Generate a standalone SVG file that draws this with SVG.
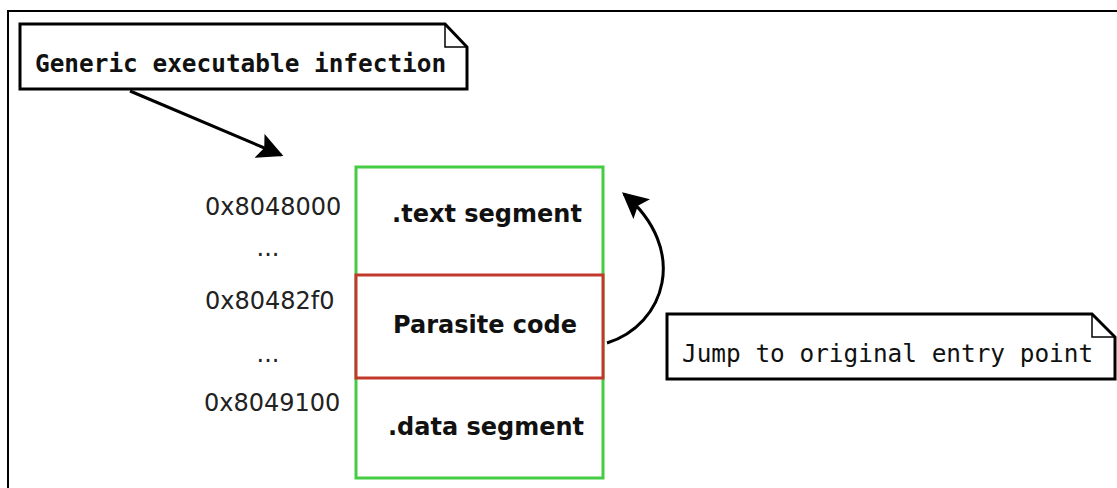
<svg xmlns="http://www.w3.org/2000/svg" width="1117" height="488" viewBox="0 0 1117 488">
<style>
.note{fill:#fff;stroke:#000;stroke-width:3}
.fold{fill:none;stroke:#000;stroke-width:1.5}
.mono{font-family:"DejaVu Sans Mono",monospace;font-size:24.4px;fill:#111}
.addr{font-family:"DejaVu Sans",sans-serif;font-size:24px;fill:#222}
.seg{font-family:"DejaVu Sans",sans-serif;font-size:24px;font-weight:bold;fill:#111}
.conn{fill:none;stroke:#000;stroke-width:3}
</style>
<defs>
<marker id="ah" viewBox="0 0 10 10" refX="9" refY="5" markerWidth="26" markerHeight="26" markerUnits="userSpaceOnUse" orient="auto">
<path d="M0,0 L10,5 L0,10 L2,5 Z" fill="#000"/>
</marker>
</defs>
<rect width="1117" height="488" fill="#fff"/>
<g id="frame">
<path d="M8,488 V11 H1117" fill="none" stroke="#000" stroke-width="2"/>
</g>
<g id="note-infection">
<path class="note" d="M20,24 H445 L467,47 V89 H20 Z"/>
<path class="fold" d="M445,24 V47 H467"/>
<text class="mono" x="35" y="72" font-weight="bold">Generic executable infection</text>
</g>
<g id="segments">
<rect x="356" y="167" width="247" height="311" fill="#fff" stroke="#44cc44" stroke-width="3"/>
<rect x="356" y="275" width="247" height="103" fill="#fff" stroke="#c0392b" stroke-width="3"/>
<text class="seg" x="487" y="222" text-anchor="middle">.text segment</text>
<text class="seg" x="485" y="333" text-anchor="middle">Parasite code</text>
<text class="seg" x="486" y="435" text-anchor="middle">.data segment</text>
</g>
<g id="addresses">
<text class="addr" x="205" y="215">0x8048000</text>
<text class="addr" x="268" y="256" text-anchor="middle">...</text>
<text class="addr" x="205" y="309">0x80482f0</text>
<text class="addr" x="268" y="362" text-anchor="middle">...</text>
<text class="addr" x="204" y="411">0x8049100</text>
</g>
<g id="note-jump">
<path class="note" d="M667,314 H1092 L1115,337 V379 H667 Z"/>
<path class="fold" d="M1092,314 V337 H1115"/>
<text class="mono" x="682" y="362">Jump to original entry point</text>
</g>
<g id="connectors">
<path class="conn" d="M130,91 L281,155" marker-end="url(#ah)"/>
<path class="conn" d="M607,343 C665,325 690,250 624,194" marker-end="url(#ah)"/>
</g>
</svg>
